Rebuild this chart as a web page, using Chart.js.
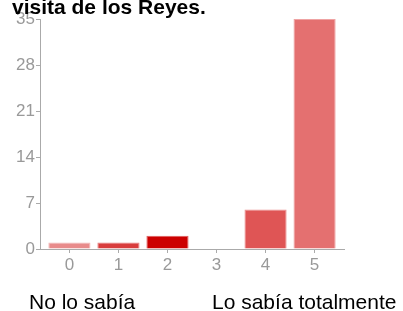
<!DOCTYPE html>
<html>
<head>
<meta charset="utf-8">
<script src="https://cdn.jsdelivr.net/npm/chart.js@4/dist/chart.umd.min.js"></script>
<style>
  html, body { margin: 0; padding: 0; background: #fff; }
  #wrap { position: relative; width: 403px; height: 311px; overflow: hidden; font-family: 'Liberation Sans', Arial, sans-serif; }
  #wrap canvas { position: absolute; left: 0; top: 0; }
  .lbl { position: absolute; font-size: 21px; line-height: 21px; color: #000; white-space: nowrap; }
  #title { left: 12px; top: -4px; font-weight: bold; }
</style>
</head>
<body>
<div id="wrap">
  <canvas id="surveyChart" width="403" height="311"></canvas>
  <div class="lbl" id="title">visita de los Reyes.</div>
  <div class="lbl" style="left:29px; top:291px;">No lo sabía</div>
  <div class="lbl" style="left:212px; top:291px;">Lo sabía totalmente</div>
</div>
<script>
const categories = [0, 1, 2, 3, 4, 5];
const responses  = [1, 1, 2, 0, 6, 35];
const yTicks     = [0, 7, 14, 21, 28, 35];

// each bar keeps its own shade of red, like the original survey summary
const barColors    = ['#e88b8b', '#d83c3c', '#cc0000', '#cc0000', '#df5555', '#e47070'];
const borderColors = ['#f2b8b8', '#e77f7f', '#e05c5c', '#e05c5c', '#eb9090', '#efa3a3'];

const axisGrey = '#aaaaaa';
const tickFont = { family: "'Liberation Sans', Arial, sans-serif", size: 17 };

new Chart(document.getElementById('surveyChart').getContext('2d'), {
  type: 'bar',
  data: {
    datasets: [{
      data: categories.map((c, i) => ({ x: c, y: responses[i] })),
      backgroundColor: barColors,
      borderColor: borderColors,
      borderWidth: 1,
      barPercentage: 0.86,
      categoryPercentage: 1,
    }],
  },
  options: {
    responsive: false,
    animation: false,
    layout: { padding: { top: 19, right: 59, left: 0, bottom: 0 } },
    plugins: { legend: { display: false }, tooltip: { enabled: false } },
    scales: {
      x: {
        type: 'linear',
        offset: false,
        min: -0.6,
        max: 5.6,
        afterFit(scale) { scale.height = 62; },
        afterBuildTicks(scale) { scale.ticks = categories.map(v => ({ value: v })); },
        grid: { offset: false, drawOnChartArea: false, drawTicks: true, tickLength: 4, color: axisGrey },
        border: { color: axisGrey, width: 1 },
        ticks: { color: '#999999', font: tickFont, padding: 2, maxRotation: 0 },
      },
      y: {
        min: 0,
        max: 35,
        afterFit(scale) { scale.width = 40; },
        afterBuildTicks(scale) { scale.ticks = yTicks.map(v => ({ value: v })); },
        grid: { drawOnChartArea: false, drawTicks: true, tickLength: 4, color: axisGrey },
        border: { color: axisGrey, width: 1 },
        ticks: { color: '#999999', font: tickFont, padding: 1 },
      },
    },
  },
});
</script>
</body>
</html>
